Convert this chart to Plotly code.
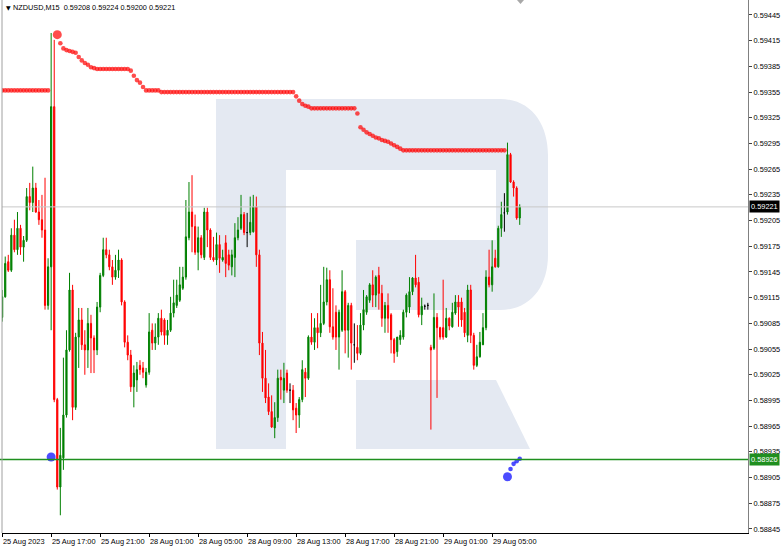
import plotly.graph_objects as go

# ---------------- data (NZDUSD M15) ----------------
opens = [
    0.59092, 0.59116, 0.59157, 0.59147, 0.59188, 0.59171, 0.59196, 0.59174, 0.59182, 0.59233,
    0.59226, 0.59243, 0.59215, 0.59206, 0.59194, 0.59106, 0.59151, 0.59338, 0.58996, 0.58894,
    0.58928, 0.58978, 0.59054, 0.59124, 0.58987, 0.59069, 0.59089, 0.59060, 0.59054, 0.59085,
    0.59068, 0.59054, 0.59104, 0.59141, 0.59171, 0.59165, 0.59151, 0.59139, 0.59147, 0.59159,
    0.59110, 0.59063, 0.59048, 0.59011, 0.59019, 0.59036, 0.59033, 0.59013, 0.59028, 0.59077,
    0.59062, 0.59069, 0.59091, 0.59089, 0.59071, 0.59077, 0.59097, 0.59106, 0.59112, 0.59126,
    0.59139, 0.59185, 0.59215, 0.59198, 0.59168, 0.59185, 0.59162, 0.59215, 0.59194, 0.59162,
    0.59159, 0.59177, 0.59159, 0.59179, 0.59165, 0.59151, 0.59162, 0.59185, 0.59196, 0.59212,
    0.59191, 0.59191, 0.59192, 0.59221, 0.59165, 0.59062, 0.59021, 0.58999, 0.58982, 0.58963,
    0.58975, 0.59022, 0.59007, 0.59027, 0.59007, 0.59007, 0.58986, 0.58978, 0.58996, 0.59028,
    0.59021, 0.59069, 0.59063, 0.59080, 0.59074, 0.59085, 0.59110, 0.59136, 0.59081, 0.59098,
    0.59069, 0.59077, 0.59122, 0.59077, 0.59106, 0.59060, 0.59057, 0.59050, 0.59083, 0.59098,
    0.59112, 0.59130, 0.59118, 0.59141, 0.59120, 0.59091, 0.59106, 0.59095, 0.59066, 0.59052,
    0.59066, 0.59069, 0.59098, 0.59104, 0.59122, 0.59138, 0.59133, 0.59095, 0.59105, 0.59106,
    0.59057, 0.59056, 0.59092, 0.59080, 0.59080, 0.59069, 0.59091, 0.59081, 0.59097, 0.59110,
    0.59110, 0.59098, 0.59071, 0.59124, 0.59071, 0.59036, 0.59046, 0.59060, 0.59080, 0.59139,
    0.59130, 0.59161, 0.59151, 0.59196, 0.59214, 0.59215, 0.59282, 0.59250, 0.59243, 0.59208,
]
highs = [
    0.59124, 0.59163, 0.59165, 0.59196, 0.59206, 0.59215, 0.59200, 0.59187, 0.59243, 0.59249,
    0.59268, 0.59249, 0.59229, 0.59235, 0.59255, 0.59161, 0.59424, 0.59416, 0.58998, 0.58963,
    0.59045, 0.59077, 0.59144, 0.59130, 0.59074, 0.59103, 0.59103, 0.59077, 0.59103, 0.59095,
    0.59071, 0.59110, 0.59144, 0.59185, 0.59185, 0.59171, 0.59159, 0.59165, 0.59171, 0.59161,
    0.59112, 0.59071, 0.59054, 0.59036, 0.59040, 0.59042, 0.59040, 0.59033, 0.59097, 0.59085,
    0.59085, 0.59097, 0.59101, 0.59091, 0.59089, 0.59116, 0.59136, 0.59136, 0.59151, 0.59151,
    0.59229, 0.59250, 0.59258, 0.59212, 0.59198, 0.59188, 0.59220, 0.59220, 0.59196, 0.59186,
    0.59191, 0.59188, 0.59171, 0.59188, 0.59171, 0.59171, 0.59202, 0.59209, 0.59235, 0.59215,
    0.59214, 0.59233, 0.59235, 0.59233, 0.59171, 0.59075, 0.59054, 0.59015, 0.59001, 0.58993,
    0.59031, 0.59031, 0.59039, 0.59031, 0.59015, 0.59013, 0.58992, 0.58999, 0.59042, 0.59033,
    0.59071, 0.59097, 0.59091, 0.59097, 0.59130, 0.59151, 0.59150, 0.59147, 0.59126, 0.59106,
    0.59101, 0.59147, 0.59124, 0.59109, 0.59109, 0.59085, 0.59083, 0.59097, 0.59124, 0.59118,
    0.59132, 0.59147, 0.59141, 0.59151, 0.59130, 0.59110, 0.59120, 0.59097, 0.59068, 0.59069,
    0.59077, 0.59101, 0.59120, 0.59139, 0.59139, 0.59165, 0.59139, 0.59115, 0.59107, 0.59109,
    0.59060, 0.59120, 0.59097, 0.59081, 0.59136, 0.59103, 0.59092, 0.59109, 0.59118, 0.59118,
    0.59115, 0.59103, 0.59130, 0.59130, 0.59074, 0.59060, 0.59075, 0.59097, 0.59147, 0.59171,
    0.59182, 0.59171, 0.59199, 0.59227, 0.59237, 0.59296, 0.59284, 0.59252, 0.59245, 0.59224,
]
lows = [
    0.59087, 0.59115, 0.59145, 0.59145, 0.59168, 0.59165, 0.59165, 0.59157, 0.59180, 0.59217,
    0.59215, 0.59214, 0.59200, 0.59185, 0.59101, 0.59101, 0.59077, 0.58993, 0.58891, 0.58861,
    0.58914, 0.58975, 0.59052, 0.58972, 0.58984, 0.59033, 0.59054, 0.59025, 0.59033, 0.59027,
    0.59027, 0.59048, 0.59098, 0.59139, 0.59161, 0.59147, 0.59130, 0.59136, 0.59138, 0.59106,
    0.59057, 0.59042, 0.59005, 0.58987, 0.59005, 0.59025, 0.59021, 0.59010, 0.59025, 0.59054,
    0.59054, 0.59060, 0.59071, 0.59060, 0.59060, 0.59075, 0.59092, 0.59103, 0.59110, 0.59124,
    0.59136, 0.59182, 0.59168, 0.59165, 0.59147, 0.59161, 0.59159, 0.59174, 0.59159, 0.59157,
    0.59153, 0.59144, 0.59157, 0.59139, 0.59147, 0.59141, 0.59139, 0.59182, 0.59194, 0.59188,
    0.59174, 0.59188, 0.59191, 0.59151, 0.59048, 0.59005, 0.58992, 0.58978, 0.58963, 0.58951,
    0.58970, 0.58996, 0.58992, 0.59004, 0.58992, 0.58972, 0.58957, 0.58963, 0.58993, 0.58999,
    0.59019, 0.59060, 0.59054, 0.59056, 0.59069, 0.59083, 0.59106, 0.59074, 0.59066, 0.59054,
    0.59031, 0.59075, 0.59050, 0.59045, 0.59031, 0.59039, 0.59042, 0.59048, 0.59077, 0.59095,
    0.59109, 0.59104, 0.59104, 0.59101, 0.59081, 0.59074, 0.59074, 0.59050, 0.59039, 0.59046,
    0.59060, 0.59066, 0.59092, 0.59097, 0.59118, 0.59127, 0.59092, 0.59083, 0.59101, 0.59101,
    0.58961, 0.59054, 0.58998, 0.59066, 0.59066, 0.59068, 0.59077, 0.59080, 0.59095, 0.59081,
    0.59081, 0.59069, 0.59063, 0.59062, 0.59031, 0.59034, 0.59045, 0.59060, 0.59077, 0.59127,
    0.59122, 0.59150, 0.59150, 0.59186, 0.59192, 0.59212, 0.59249, 0.59233, 0.59206, 0.59200,
]
closes = [
    0.59116, 0.59155, 0.59147, 0.59188, 0.59171, 0.59196, 0.59174, 0.59182, 0.59233, 0.59226,
    0.59243, 0.59215, 0.59206, 0.59194, 0.59106, 0.59151, 0.59338, 0.58996, 0.58894, 0.58931,
    0.58978, 0.59054, 0.59124, 0.58987, 0.59069, 0.59089, 0.59060, 0.59054, 0.59085, 0.59068,
    0.59054, 0.59104, 0.59141, 0.59171, 0.59165, 0.59151, 0.59139, 0.59147, 0.59159, 0.59110,
    0.59063, 0.59048, 0.59011, 0.59027, 0.59031, 0.59031, 0.59028, 0.59028, 0.59075, 0.59062,
    0.59069, 0.59091, 0.59075, 0.59071, 0.59077, 0.59097, 0.59109, 0.59118, 0.59130, 0.59139,
    0.59186, 0.59215, 0.59198, 0.59168, 0.59185, 0.59165, 0.59215, 0.59194, 0.59162, 0.59159,
    0.59177, 0.59161, 0.59162, 0.59155, 0.59153, 0.59165, 0.59185, 0.59194, 0.59212, 0.59191,
    0.59191, 0.59203, 0.59221, 0.59165, 0.59062, 0.59021, 0.58998, 0.58982, 0.58964, 0.58975,
    0.59021, 0.59019, 0.59021, 0.59007, 0.59007, 0.58984, 0.58978, 0.58996, 0.59031, 0.59021,
    0.59069, 0.59063, 0.59080, 0.59074, 0.59085, 0.59110, 0.59136, 0.59081, 0.59069, 0.59069,
    0.59098, 0.59122, 0.59077, 0.59106, 0.59062, 0.59060, 0.59050, 0.59083, 0.59101, 0.59116,
    0.59130, 0.59118, 0.59139, 0.59120, 0.59091, 0.59106, 0.59091, 0.59066, 0.59050, 0.59069,
    0.59071, 0.59098, 0.59118, 0.59122, 0.59138, 0.59130, 0.59095, 0.59105, 0.59105, 0.59106,
    0.59054, 0.59092, 0.59080, 0.59069, 0.59069, 0.59091, 0.59082, 0.59098, 0.59110, 0.59104,
    0.59089, 0.59074, 0.59124, 0.59071, 0.59036, 0.59046, 0.59063, 0.59080, 0.59139, 0.59130,
    0.59151, 0.59151, 0.59196, 0.59212, 0.59214, 0.59282, 0.59250, 0.59243, 0.59208, 0.59221,
]

N = None
resistance = [
    0.59357, 0.59357, 0.59357, 0.59357, 0.59357, 0.59357, 0.59357, 0.59357, 0.59357, 0.59357,
    0.59357, 0.59357, 0.59357, 0.59357, 0.59357, 0.59357, N, N, 0.59422, 0.59412,
    0.59406, 0.59404, 0.59403, 0.59402, 0.59401, 0.59396, 0.59392, 0.59389, 0.59387, 0.59384,
    0.59383, 0.59382, 0.59382, 0.59382, 0.59382, 0.59382, 0.59382, 0.59382, 0.59382, 0.59382,
    0.59382, 0.59382, 0.59380, 0.59374, 0.59369, 0.59366, 0.59361, 0.59357, 0.59357, 0.59357,
    0.59357, 0.59357, 0.59355, 0.59355, 0.59355, 0.59355, 0.59355, 0.59355, 0.59355, 0.59355,
    0.59355, 0.59355, 0.59355, 0.59355, 0.59355, 0.59355, 0.59355, 0.59355, 0.59355, 0.59355,
    0.59355, 0.59355, 0.59355, 0.59355, 0.59355, 0.59355, 0.59355, 0.59355, 0.59355, 0.59355,
    0.59355, 0.59355, 0.59355, 0.59355, 0.59355, 0.59355, 0.59355, 0.59355, 0.59355, 0.59355,
    0.59355, 0.59355, 0.59355, 0.59355, 0.59355, 0.59355, 0.59350, 0.59345, 0.59341, 0.59339,
    0.59338, 0.59336, 0.59336, 0.59336, 0.59336, 0.59336, 0.59336, 0.59336, 0.59336, 0.59336,
    0.59336, 0.59336, 0.59336, 0.59336, 0.59336, 0.59336, 0.59330, 0.59314, 0.59311, 0.59308,
    0.59306, 0.59304, 0.59302, 0.59301, 0.59299, 0.59298, 0.59297, 0.59295, 0.59293, 0.59291,
    0.59289, 0.59287, 0.59287, 0.59287, 0.59287, 0.59287, 0.59287, 0.59287, 0.59287, 0.59287,
    0.59287, 0.59287, 0.59287, 0.59287, 0.59287, 0.59287, 0.59287, 0.59287, 0.59287, 0.59287,
    0.59287, 0.59287, 0.59287, 0.59287, 0.59287, 0.59287, 0.59287, 0.59287, 0.59287, 0.59287,
    0.59287, 0.59287, 0.59287, 0.59287, 0.59287, N, N, N, N, N,
]
support = [N] * 16 + [0.58929] + [N] * 148 + [0.58906, 0.58915, 0.58921, 0.58924, 0.58927]

level_price = 0.58926
bid_price = 0.59221
symbol = "NZDUSD,M15"

tick_pos = [0, 16, 32, 48, 64, 80, 96, 112, 128, 144, 160]
tick_text = ["25 Aug 2023", "25 Aug 17:00", "25 Aug 21:00", "28 Aug 01:00", "28 Aug 05:00",
             "28 Aug 09:00", "28 Aug 13:00", "28 Aug 17:00", "28 Aug 21:00", "29 Aug 01:00",
             "29 Aug 05:00"]
price_ticks = [0.58845, 0.58875, 0.58905, 0.58935, 0.58965, 0.58995, 0.59025, 0.59055,
               0.59085, 0.59115, 0.59145, 0.59175, 0.59205, 0.59235, 0.59265, 0.59295,
               0.59325, 0.59355, 0.59385, 0.59415, 0.59445]

# ---------------- styling ----------------
W, H = 782, 550
ML, MR, MT, MB = 2, 34, 0, 17
PW, PH = W - ML - MR, H - MT - MB
FONT = "Liberation Sans, Arial, sans-serif"
GREEN, RED, BLACK = "#008000", "#ff0000", "#000000"
WATER = "#e4e9f2"
BAR_PX = 3.0625
A0 = -0.05

def px(xp):  # pixel -> paper x
    return (xp - ML) / PW

def py(yp):  # pixel -> paper y
    return (H - MB - yp) / PH

idx = list(range(len(closes)))
fig = go.Figure()

groups = [
    ([i for i in idx if closes[i] > opens[i]], GREEN),
    ([i for i in idx if closes[i] < opens[i]], RED),
    ([i for i in idx if closes[i] == opens[i]], BLACK),
]
for sel, col in groups:
    fig.add_trace(go.Candlestick(
        x=sel,
        open=[opens[i] for i in sel], high=[highs[i] for i in sel],
        low=[lows[i] for i in sel], close=[closes[i] for i in sel],
        increasing=dict(line=dict(color=col, width=1), fillcolor=col),
        decreasing=dict(line=dict(color=col, width=1), fillcolor=col),
        whiskerwidth=0, showlegend=False, hoverinfo="skip",
    ))

def dot_sizes(vals, small, big):
    out = []
    for k, v in enumerate(vals):
        start = v is not None and k > 0 and vals[k - 1] is None
        out.append(big if start else small)
    return out

fig.add_trace(go.Scatter(x=idx, y=resistance, mode="markers",
                         marker=dict(color=RED, size=dot_sizes(resistance, 4.6, 9), line=dict(width=0)),
                         showlegend=False, hoverinfo="skip"))
fig.add_trace(go.Scatter(x=idx, y=support, mode="markers",
                         marker=dict(color="#0000ff", size=dot_sizes(support, 4.6, 9), line=dict(width=0)),
                         showlegend=False, hoverinfo="skip"))

# watermark "R"
def pth(points):
    s = ""
    for cmd, pts in points:
        s += cmd + " " + " ".join(f"{px(a):.5f},{py(b):.5f}" for a, b in pts) + " "
    return s + "Z"

r_body = pth([("M", [(216, 99)]), ("L", [(500, 99)]),
              ("C", [(531, 99), (548, 124), (548, 155)]), ("L", [(548, 255)]),
              ("C", [(548, 286), (531, 310), (500, 310)]), ("L", [(356, 310)]),
              ("L", [(356, 240)]), ("L", [(496, 240)]), ("L", [(496, 170)]),
              ("L", [(286, 170)]), ("L", [(286, 449)]), ("L", [(216, 449)])])
r_leg = pth([("M", [(356, 380)]), ("L", [(496, 380)]), ("L", [(530, 449)]), ("L", [(356, 449)])])

shapes = [
    dict(type="path", xref="paper", yref="paper", path=r_body, fillcolor=WATER,
         line=dict(width=0), layer="below"),
    dict(type="path", xref="paper", yref="paper", path=r_leg, fillcolor=WATER,
         line=dict(width=0), layer="below"),
    dict(type="line", xref="paper", yref="y", x0=0, x1=1, y0=bid_price, y1=bid_price,
         line=dict(color="#c8c8c8", width=1), layer="above"),
    dict(type="line", xref="paper", yref="y", x0=px(0), x1=1, y0=level_price, y1=level_price,
         line=dict(color="#1f8f1f", width=1.5), layer="above"),
    dict(type="line", xref="paper", yref="paper", x0=0, x1=0, y0=0, y1=1,
         line=dict(color="#a0a0a0", width=1)),
    dict(type="path", xref="paper", yref="paper",
         path=f"M {px(517):.5f},{py(0):.5f} L {px(524):.5f},{py(0):.5f} L {px(520.5):.5f},{py(4):.5f} Z",
         fillcolor="#a8a8a8", line=dict(width=0)),
]

annotations = []
for pos, txt in zip(tick_pos, tick_text):
    annotations.append(dict(x=pos, xref="x", y=0, yref="paper", yanchor="top", xanchor="left",
                            yshift=-2, xshift=-1, text=txt, showarrow=False,
                            font=dict(family=FONT, size=7.4, color="#000000")))
# header
annotations.append(dict(x=px(4), xref="paper", y=py(8), yref="paper", xanchor="left",
                        yanchor="middle", text="▼", showarrow=False,
                        font=dict(family="DejaVu Sans", size=6, color="#000000")))
ohlc_txt = f"{symbol}\u00a0\u00a0{opens[-1]:.5f} {highs[-1]:.5f} {lows[-1]:.5f} {closes[-1]:.5f}"
annotations.append(dict(x=px(11), xref="paper", y=py(8), yref="paper", xanchor="left",
                        yanchor="middle", text=ohlc_txt, showarrow=False,
                        font=dict(family=FONT, size=7.3, color="#000000")))
# price boxes on axis
for price, bg in ((bid_price, "#000000"), (level_price, "#1f8f1f")):
    annotations.append(dict(x=1, xref="paper", y=price, yref="y", xanchor="left", yanchor="middle",
                            xshift=1, text=f"{price:.5f}", showarrow=False, bgcolor=bg,
                            borderpad=1, font=dict(family=FONT, size=7.4, color="#ffffff")))

fig.update_layout(
    width=W, height=H, margin=dict(l=ML, r=MR, t=MT, b=MB, pad=0),
    paper_bgcolor="#ffffff", plot_bgcolor="#ffffff",
    showlegend=False, boxgap=0.45, hovermode=False,
    shapes=shapes, annotations=annotations,
    font=dict(family=FONT, size=7.4, color="#000000"),
    xaxis=dict(range=[A0, A0 + PW / BAR_PX], showgrid=False, zeroline=False,
               showline=True, linecolor="#000000", linewidth=1,
               ticks="outside", ticklen=3, tickcolor="#000000", tickvals=tick_pos,
               showticklabels=False, rangeslider=dict(visible=False), fixedrange=True),
    yaxis=dict(range=[0.588403, 0.594625], side="right", showgrid=False, zeroline=False,
               showline=True, linecolor="#808080", linewidth=1,
               ticks="outside", ticklen=3, tickcolor="#404040",
               tickvals=price_ticks, ticktext=[f"{v:.5f}" for v in price_ticks],
               tickfont=dict(family=FONT, size=7.4, color="#000000"), fixedrange=True),
)

fig.write_html("out.html", config={"displayModeBar": False},
               post_script="document.body.style.margin='0';document.body.style.overflow='hidden';")
